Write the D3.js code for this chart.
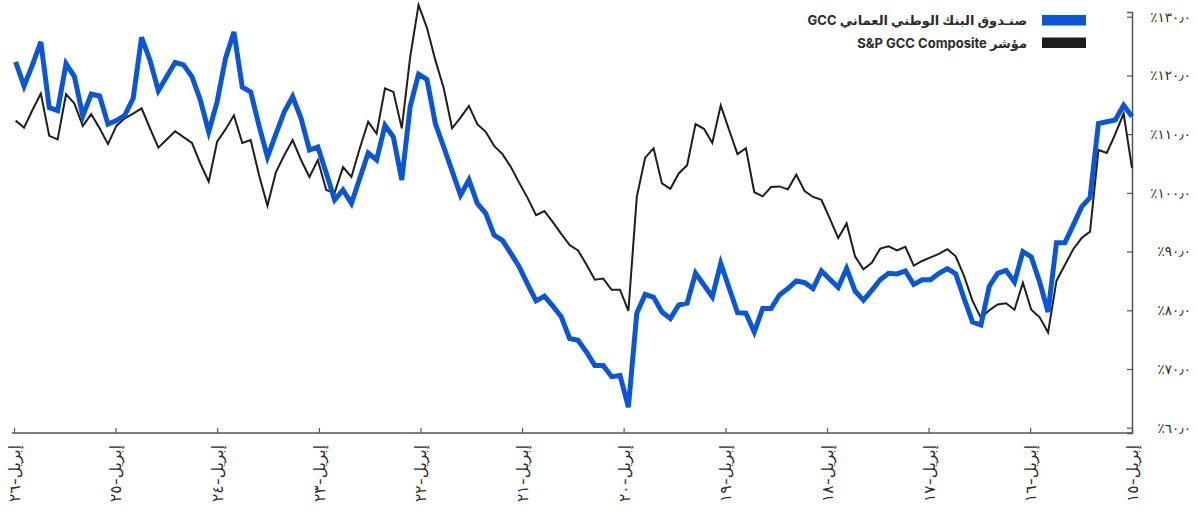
<!DOCTYPE html>
<html>
<head>
<meta charset="utf-8">
<script src="https://cdn.jsdelivr.net/npm/d3@7"></script>
<style>
  body { margin: 0; background: #fff; }
  svg { display: block; }
</style>
</head>
<body>
<div id="chart"></div>
<script>
// series names + colours (legend order)
var seriesNames = ["صنـدوق البنك الوطني العماني GCC", "مؤشر S&P GCC Composite"];
var seriesColors = ["#0a56d8", "#1e1e1e"];

// observations run from April 2015 to late March 2026, oldest first
var firstObs = new Date(2015, 3, 1);
var lastObs = new Date(2026, 2, 26);

var fundValues = [
  113.0, 114.9, 112.4, 112.1, 111.8, 99.2, 97.6, 94.5, 91.5, 91.5,
  79.7, 84.8, 89.1, 90.0, 84.8, 86.8, 86.3, 84.1, 77.5, 78.0,
  82.0, 86.2, 87.1, 86.3, 85.2, 85.2, 84.4, 86.7, 86.2, 86.3,
  85.2, 83.4, 81.7, 83.3, 87.1, 83.9, 85.3, 86.7, 83.7, 84.7,
  85.0, 83.7, 82.6, 80.3, 80.3, 76.3, 79.5, 79.6, 83.8, 88.0,
  82.3, 84.3, 86.3, 81.2, 80.9, 78.6, 79.7, 82.2, 82.7, 79.5,
  63.5, 68.9, 68.7, 70.6, 70.6, 72.9, 74.9, 75.2, 78.9, 80.7,
  82.4, 81.6, 84.4, 87.4, 89.7, 91.9, 92.8, 96.5, 98.2, 102.2,
  99.6, 103.7, 107.8, 111.8, 119.3, 120.2, 114.7, 102.2, 109.5, 111.5,
  105.6, 106.8, 102.5, 98.2, 100.5, 98.8, 103.4, 107.8, 107.3, 112.7,
  116.4, 113.8, 110.0, 106.1, 111.4, 117.2, 118.0, 127.4, 122.9, 115.5,
  110.4, 115.8, 119.8, 121.8, 122.2, 119.8, 117.4, 122.6, 126.5, 116.1,
  113.2, 112.3, 111.7, 116.5, 116.8, 113.1, 119.8, 122.0, 114.0, 114.5,
  125.7, 121.8, 118.2, 122.3
];

var indexValues = [
  104.2, 113.5, 110.0, 106.8, 107.3, 93.4, 92.3, 90.4, 87.7, 85.0,
  76.2, 78.8, 80.1, 84.7, 80.1, 81.2, 81.0, 80.0, 78.7, 81.6,
  85.8, 89.2, 90.4, 89.6, 89.0, 88.4, 87.6, 90.8, 90.2, 90.9,
  90.5, 88.1, 87.0, 89.2, 94.8, 92.3, 95.6, 98.8, 99.3, 100.3,
  103.1, 100.6, 101.1, 101.0, 99.4, 100.1, 107.6, 106.6, 110.7, 114.9,
  108.5, 110.9, 111.7, 104.7, 103.3, 100.7, 101.6, 107.6, 106.0, 99.3,
  79.9, 83.5, 83.5, 85.4, 85.2, 87.8, 90.2, 91.1, 93.0, 95.0,
  96.9, 96.2, 99.1, 101.7, 104.4, 106.6, 108.0, 110.4, 111.7, 114.8,
  112.8, 111.0, 117.8, 122.6, 128.1, 132.0, 123.1, 111.0, 117.2, 117.8,
  110.1, 112.1, 107.6, 102.7, 104.4, 100.0, 100.5, 105.6, 102.7, 105.6,
  109.0, 106.4, 103.5, 97.8, 103.0, 109.0, 108.5, 113.2, 110.8, 108.7,
  101.9, 105.0, 108.5, 109.5, 110.5, 109.1, 107.7, 111.0, 114.4, 113.5,
  112.7, 111.4, 108.3, 111.0, 113.4, 111.4, 115.2, 116.8, 109.1, 109.7,
  116.9, 114.1, 111.1, 112.3
];

// x ticks: April of every year
var xTickYears = [2015, 2016, 2017, 2018, 2019, 2020, 2021, 2022, 2023, 2024, 2025, 2026];
var xTickLabels = ["إبريل-١٥", "إبريل-١٦", "إبريل-١٧", "إبريل-١٨", "إبريل-١٩", "إبريل-٢٠",
                   "إبريل-٢١", "إبريل-٢٢", "إبريل-٢٣", "إبريل-٢٤", "إبريل-٢٥", "إبريل-٢٦"];

var yTickValues = [60, 70, 80, 90, 100, 110, 120, 130];
var yTickLabels = ["٪٦٠٫٠", "٪٧٠٫٠", "٪٨٠٫٠", "٪٩٠٫٠", "٪١٠٠٫٠", "٪١١٠٫٠", "٪١٢٠٫٠", "٪١٣٠٫٠"];

var width = 1198, height = 513;
var axisColor = "#555", textColor = "#2b2b2b";
var fontFam = "Inter, 'DejaVu Sans', sans-serif";

var svg = d3.select("#chart").append("svg")
    .attr("width", width)
    .attr("height", height);

// time runs right to left
var x = d3.scaleTime()
    .domain([new Date(2015, 3, 1), new Date(2026, 3, 1)])
    .range([1132, 14]);
var y = d3.scaleLinear()
    .domain([59.1, 130.8])
    .range([433, 12]);

var n = fundValues.length;
var span = lastObs - firstObs;
var obsDates = d3.range(n).map(function(i) {
    return new Date(+firstObs + span * i / (n - 1));
});

// y axis on the right, ticks pointing into the plot
var yAxis = svg.append("g")
    .attr("transform", "translate(1132,0)")
    .call(d3.axisLeft(y).tickValues(yTickValues).tickSize(5)
        .tickFormat(function(d, i) { return yTickLabels[i]; }));
yAxis.select(".domain").attr("stroke", axisColor).attr("stroke-width", 1.5);
yAxis.selectAll(".tick line").attr("stroke", axisColor).attr("stroke-width", 1.2);
yAxis.selectAll(".tick text")
    .attr("x", 59)
    .attr("text-anchor", "end")
    .style("font-family", fontFam)
    .style("font-size", "13.5px")
    .style("font-weight", "500")
    .style("fill", textColor);

// x axis along the bottom
var xTickDates = xTickYears.map(function(yr) { return new Date(yr, 3, 1); });
var xAxis = svg.append("g")
    .attr("transform", "translate(0,433)")
    .call(d3.axisBottom(x).tickValues(xTickDates).tickSize(-5).tickSizeOuter(0)
        .tickFormat(function(d, i) { return xTickLabels[i]; }));
xAxis.select(".domain").attr("stroke", axisColor).attr("stroke-width", 1.5)
    .attr("d", "M" + 12 + ",0H1132");
xAxis.selectAll(".tick line").attr("stroke", axisColor).attr("stroke-width", 1.2);
xAxis.selectAll(".tick text")
    .attr("y", 0)
    .attr("dy", "0.35em")
    .attr("transform", "translate(0,12) rotate(-90)")
    .attr("text-anchor", "end")
    .style("font-family", fontFam)
    .style("font-size", "15.5px")
    .style("fill", textColor);

// lines, index underneath the fund
var line = d3.line()
    .x(function(d, i) { return x(obsDates[i]); })
    .y(function(d) { return y(d); });

svg.append("path")
    .datum(indexValues)
    .attr("fill", "none")
    .attr("stroke", seriesColors[1])
    .attr("stroke-width", 2)
    .attr("d", line);

svg.append("path")
    .datum(fundValues)
    .attr("fill", "none")
    .attr("stroke", seriesColors[0])
    .attr("stroke-width", 5)
    .attr("d", line);

// legend, top right
var legend = svg.append("g").attr("transform", "translate(1086,15)");
seriesNames.forEach(function(name, i) {
    var row = legend.append("g").attr("transform", "translate(0," + (i * 22.5) + ")");
    row.append("rect")
        .attr("x", -44).attr("y", 0)
        .attr("width", 44).attr("height", 10.5)
        .attr("fill", seriesColors[i]);
    row.append("text")
        .attr("x", -59).attr("y", 5.5)
        .attr("dy", "0.35em")
        .attr("direction", "rtl")
        .attr("text-anchor", "start")
        .style("font-family", fontFam)
        .style("font-weight", "bold")
        .style("font-size", "13px")
        .style("fill", textColor)
        .text(name);
});
</script>
</body>
</html>
